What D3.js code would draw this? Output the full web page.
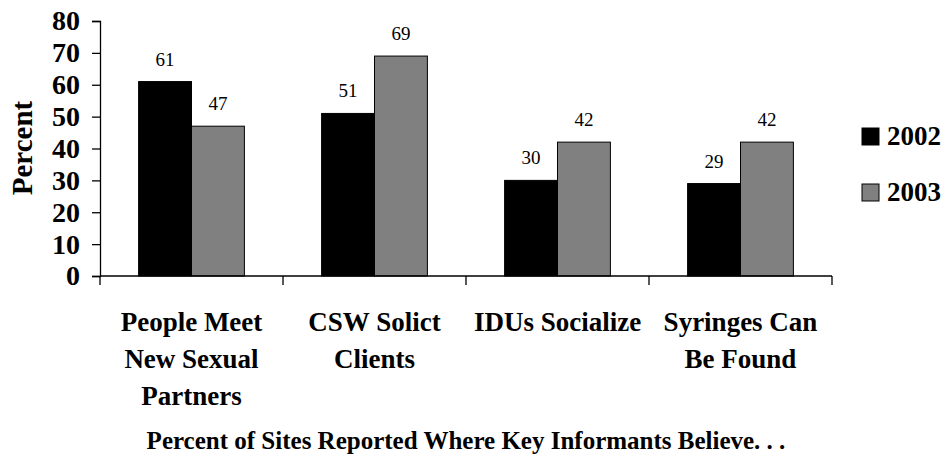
<!DOCTYPE html>
<html>
<head>
<meta charset="utf-8">
<script src="https://cdn.jsdelivr.net/npm/d3@7"></script>
<style>
	body { margin: 0; background: #fff; }
	svg { display: block; font-family: "Liberation Serif", "Times New Roman", serif; }
	svg text { font-family: "Liberation Serif", "Times New Roman", serif; }
</style>
</head>
<body>
<div id="chart"></div>
<script>
// data
const categories = [
	['People Meet', 'New Sexual', 'Partners'],
	['CSW Solict', 'Clients'],
	['IDUs Socialize'],
	['Syringes Can', 'Be Found']
];
const years = ['2002', '2003'];
const values2002 = [61, 51, 30, 29];
const values2003 = [47, 69, 42, 42];
const yTicks = [0, 10, 20, 30, 40, 50, 60, 70, 80];
const colors = ['#000000', '#808080'];

const width = 945;
const height = 456;

const svg = d3.select('#chart')
	.append('svg')
	.attr('width', width)
	.attr('height', height);

const x = d3.scaleBand()
	.domain(d3.range(categories.length))
	.range([100, 832])
	.paddingInner(0)
	.paddingOuter(0);

//two bars ~53px wide with ~38px free on each side of the pair
const x1 = d3.scaleBand()
	.domain(years)
	.range([0, x.bandwidth()])
	.paddingOuter(0.73);

const y = d3.scaleLinear()
	.domain([0, 80])
	.range([276, 21]);

//bars
const rows = categories.map((c, i) => ({ i: i, vals: [values2002[i], values2003[i]] }));

const groups = svg.selectAll('.group')
	.data(rows)
	.enter()
	.append('g')
	.attr('class', 'group')
	.attr('transform', d => 'translate(' + x(d.i) + ',0)');

groups.selectAll('rect')
	.data(d => d.vals.map((v, k) => ({ year: years[k], v: v, k: k })))
	.enter()
	.append('rect')
	.attr('x', d => x1(d.year))
	.attr('y', d => y(d.v))
	.attr('width', x1.bandwidth())
	.attr('height', d => y(0) - y(d.v))
	.style('fill', d => colors[d.k])
	.style('stroke', '#000')
	.style('stroke-width', '1px');

groups.selectAll('.val')
	.data(d => d.vals.map((v, k) => ({ year: years[k], v: v })))
	.enter()
	.append('text')
	.attr('class', 'val')
	.attr('x', d => x1(d.year) + x1.bandwidth() / 2)
	.attr('y', d => y(d.v) - 16)
	.attr('text-anchor', 'middle')
	.style('font-size', '19px')
	.text(d => d.v);

//y axis
const yAxis = svg.append('g')
	.attr('transform', 'translate(100,0)')
	.call(d3.axisLeft(y).tickValues(yTicks).tickSize(8).tickPadding(12));

yAxis.select('.domain').attr('stroke', '#000').attr('stroke-width', 1.3);
yAxis.selectAll('.tick line').attr('stroke-width', 1.3);
yAxis.selectAll('.tick text')
	.style('font-size', '28px')
	.style('font-weight', 'bold')
	.attr('fill', '#000');

//x axis line with ticks at band edges
svg.append('line')
	.attr('x1', x.range()[0])
	.attr('x2', x.range()[1])
	.attr('y1', y(0))
	.attr('y2', y(0))
	.style('stroke', '#000')
	.style('stroke-width', '1.3px');

const edges = d3.range(categories.length + 1).map(i => x.range()[0] + i * x.step());
svg.selectAll('.xtick')
	.data(edges)
	.enter()
	.append('line')
	.attr('class', 'xtick')
	.attr('x1', d => d)
	.attr('x2', d => d)
	.attr('y1', y(0))
	.attr('y2', y(0) + 9)
	.style('stroke', '#000')
	.style('stroke-width', '1.3px');

//category labels
const catLabels = svg.selectAll('.cat')
	.data(categories)
	.enter()
	.append('text')
	.attr('class', 'cat')
	.attr('text-anchor', 'middle')
	.style('font-size', '27px')
	.style('font-weight', 'bold');

catLabels.each(function(lines, i) {
	d3.select(this).selectAll('tspan')
		.data(lines)
		.enter()
		.append('tspan')
		.attr('x', x(i) + x.bandwidth() / 2)
		.attr('y', (d, k) => 331 + k * 37)
		.text(d => d);
});

//axis titles
svg.append('text')
	.attr('transform', 'translate(32,148) rotate(-90)')
	.attr('text-anchor', 'middle')
	.style('font-size', '29px')
	.style('font-weight', 'bold')
	.text('Percent');

svg.append('text')
	.attr('x', 466)
	.attr('y', 449)
	.attr('text-anchor', 'middle')
	.style('font-size', '25px')
	.style('font-weight', 'bold')
	.text('Percent of Sites Reported Where Key Informants Believe. . .');

//legend
const legend = svg.selectAll('.legend')
	.data(years)
	.enter()
	.append('g')
	.attr('class', 'legend')
	.attr('transform', (d, i) => 'translate(862,' + (128 + i * 56) + ')');

legend.append('rect')
	.attr('width', 17)
	.attr('height', 17)
	.style('fill', (d, i) => colors[i])
	.style('stroke', '#000')
	.style('stroke-width', '1px');

legend.append('text')
	.attr('x', 25)
	.attr('y', 17)
	.style('font-size', '27px')
	.style('font-weight', 'bold')
	.text(d => d);
</script>
</body>
</html>
